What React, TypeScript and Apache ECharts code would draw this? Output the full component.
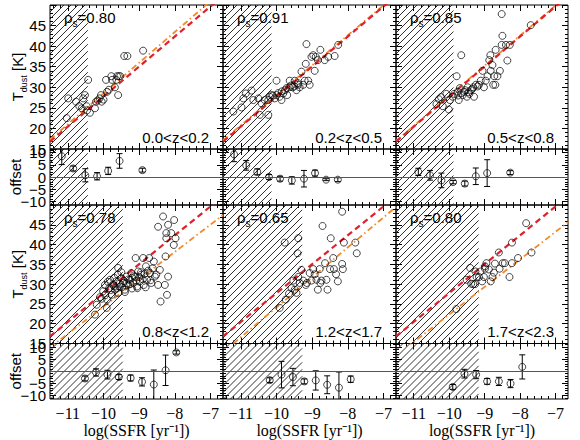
import React, { useEffect, useRef } from 'react';
import * as echarts from 'echarts';

const X_MIN = -11.5;
const X_MAX = -6.65;
const T_MIN = 15;
const T_MAX = 50;
const OFF_MIN = -11.5;
const OFF_MAX = 11.5;

const xTickValues = [-11, -10, -9, -8, -7];
const tTickValues = [15, 20, 25, 30, 35, 40, 45, 50];
const tLabelsA = [15, 25, 35, 45];
const tLabelsB = [20, 30, 40];
const offTickValues = [-10, -5, 0, 5, 10];
const offLabelsA = [-10, 0, 10];
const offLabelsB = [-5, 5];

const zBinLabels = ['0.0<z<0.2', '0.2<z<0.5', '0.5<z<0.8', '0.8<z<1.2', '1.2<z<1.7', '1.7<z<2.3'];
const rhoValues = ['0.80', '0.91', '0.85', '0.78', '0.65', '0.80'];
const hatchLimits = [-10.44, -10.14, -9.88, -9.46, -9.28, -9.17];

// linear relations: T at log(SSFR) = -11.5 and slope per dex
const redStart = 16.8;
const redSlope = 7.3;
const orangeStart = [17.3, 17.1, 16.95, 14.0, 12.8, 11.9];
const orangeSlope = [7.47, 7.3, 7.32, 6.9, 7.57, 6.96];

const scatter1 = [[-11.03,22.5],[-10.99,27.3],[-10.77,26.5],[-10.68,25.4],[-10.61,24.9],[-10.57,27.3],[-10.52,28.1],[-10.47,25.4],[-10.46,24.4],[-10.43,31.8],[-10.38,23.8],[-10.24,24.9],[-10.21,26.5],[-10.16,26.8],[-10.11,27.3],[-10.07,28.1],[-10.05,26.5],[-10.0,27.0],[-9.93,31.8],[-9.9,28.9],[-9.85,29.4],[-9.78,32.7],[-9.76,31.8],[-9.68,30.0],[-9.64,31.8],[-9.62,32.7],[-9.59,28.1],[-9.57,32.7],[-9.53,32.7],[-9.42,37.6],[-9.33,37.6],[-8.89,38.9]];
const scatter2 = [[-11.21,24.1],[-10.98,25.1],[-10.93,27.3],[-10.86,28.5],[-10.7,29.2],[-10.65,26.9],[-10.51,27.3],[-10.47,23.3],[-10.42,26.1],[-10.33,26.9],[-10.23,23.3],[-10.23,26.9],[-10.19,27.7],[-10.14,28.1],[-10.1,28.0],[-10.05,27.3],[-10.0,31.6],[-10.0,28.1],[-9.95,28.6],[-9.91,27.7],[-9.86,26.9],[-9.85,29.0],[-9.81,28.5],[-9.76,29.3],[-9.72,29.8],[-9.7,28.1],[-9.64,30.0],[-9.63,31.6],[-9.6,30.4],[-9.55,30.0],[-9.5,30.2],[-9.49,31.6],[-9.44,29.3],[-9.4,31.0],[-9.39,30.6],[-9.35,30.0],[-9.3,33.8],[-9.25,30.6],[-9.21,31.6],[-9.18,35.7],[-9.16,40.5],[-9.11,31.6],[-9.07,30.6],[-9.02,37.4],[-8.97,37.8],[-8.93,34.0],[-8.9,37.4],[-8.84,36.6],[-8.77,39.1],[-8.65,36.6],[-8.55,37.4],[-8.37,37.6],[-8.27,40.3]];
const scatter3 = [[-10.36,25.9],[-10.29,27.1],[-10.23,27.6],[-10.18,25.4],[-10.08,28.4],[-10.01,24.6],[-9.98,26.9],[-9.9,27.7],[-9.86,28.4],[-9.79,32.7],[-9.76,28.9],[-9.75,28.0],[-9.73,26.9],[-9.7,29.8],[-9.66,37.8],[-9.65,28.6],[-9.62,28.1],[-9.57,28.9],[-9.55,29.3],[-9.5,27.7],[-9.48,30.0],[-9.45,28.8],[-9.43,28.4],[-9.39,29.3],[-9.35,29.6],[-9.32,30.0],[-9.3,27.7],[-9.25,30.6],[-9.2,30.2],[-9.16,30.6],[-9.11,31.6],[-9.06,34.0],[-9.02,30.0],[-8.97,31.6],[-8.92,32.7],[-8.87,36.6],[-8.84,37.8],[-8.83,34.0],[-8.78,35.4],[-8.76,30.6],[-8.73,32.7],[-8.7,30.6],[-8.69,39.1],[-8.64,32.7],[-8.57,34.0],[-8.52,40.3],[-8.5,42.5],[-8.52,47.8],[-8.4,40.3],[-8.36,36.5],[-8.29,40.3],[-7.7,45.1]];
const scatter4 = [[-10.24,22.3],[-10.19,24.8],[-10.1,26.7],[-10.05,26.3],[-10.01,28.2],[-9.96,29.8],[-9.95,27.2],[-9.91,24.0],[-9.9,26.1],[-9.88,30.6],[-9.84,29.0],[-9.82,31.1],[-9.8,28.5],[-9.77,27.3],[-9.73,29.8],[-9.7,29.5],[-9.7,31.6],[-9.68,28.6],[-9.64,30.7],[-9.62,28.9],[-9.6,32.4],[-9.59,34.1],[-9.59,27.8],[-9.55,30.1],[-9.54,29.4],[-9.5,31.5],[-9.5,33.0],[-9.48,29.2],[-9.45,30.3],[-9.42,30.8],[-9.4,28.6],[-9.4,28.0],[-9.36,31.9],[-9.35,30.2],[-9.31,29.8],[-9.3,31.2],[-9.26,31.1],[-9.25,30.0],[-9.22,32.8],[-9.2,31.6],[-9.2,28.9],[-9.17,30.3],[-9.15,32.2],[-9.12,31.9],[-9.1,36.6],[-9.08,30.9],[-9.06,29.4],[-9.05,29.0],[-9.03,33.2],[-9.0,31.8],[-8.98,30.7],[-8.95,33.0],[-8.94,32.4],[-8.9,31.2],[-8.89,36.6],[-8.87,29.8],[-8.85,32.6],[-8.82,29.2],[-8.81,34.5],[-8.78,31.1],[-8.75,33.4],[-8.72,36.6],[-8.7,32.8],[-8.68,31.0],[-8.66,30.3],[-8.62,34.0],[-8.59,35.7],[-8.56,31.9],[-8.52,32.4],[-8.47,29.8],[-8.42,33.6],[-8.4,25.6],[-8.28,29.8],[-8.26,37.0],[-8.22,27.3],[-8.19,31.9],[-8.47,44.5],[-8.33,47.1],[-8.19,45.0],[-8.24,42.9],[-8.24,41.6],[-8.1,42.9],[-8.02,46.2],[-7.98,41.6],[-8.03,39.9]];
const scatter5 = [[-9.91,24.0],[-9.77,40.5],[-9.74,26.1],[-9.65,27.6],[-9.58,29.0],[-9.53,30.9],[-9.49,28.6],[-9.44,27.8],[-9.41,37.8],[-9.39,41.6],[-9.39,31.8],[-9.35,30.3],[-9.3,33.6],[-9.25,30.9],[-9.18,29.8],[-9.15,30.3],[-9.07,32.8],[-9.02,30.9],[-8.97,33.8],[-8.93,32.5],[-8.88,31.1],[-8.84,28.6],[-8.79,33.8],[-8.77,30.3],[-8.74,30.9],[-8.71,44.7],[-8.64,35.3],[-8.6,31.1],[-8.57,28.6],[-8.5,33.8],[-8.48,41.6],[-8.41,36.6],[-8.39,33.8],[-8.33,32.5],[-8.28,30.7],[-8.16,35.1],[-8.14,33.8],[-8.11,40.5],[-8.16,48.3],[-7.79,40.5],[-7.75,37.8]];
const scatter6 = [[-9.8,23.7],[-9.51,31.1],[-9.41,34.1],[-9.38,30.1],[-9.32,30.0],[-9.27,30.0],[-9.26,33.2],[-9.23,31.8],[-9.16,31.8],[-9.12,33.2],[-9.07,30.7],[-9.02,31.8],[-8.99,34.5],[-8.99,33.9],[-8.95,35.3],[-8.88,33.7],[-8.83,30.7],[-8.78,31.8],[-8.74,32.9],[-8.71,35.2],[-8.6,38.0],[-8.58,33.9],[-8.49,35.3],[-8.43,35.3],[-8.3,31.8],[-8.23,40.5],[-8.23,35.3],[-8.06,36.6],[-7.83,45.4],[-7.68,38.0]];
const scatterSets = [scatter1, scatter2, scatter3, scatter4, scatter5, scatter6];

// offset: [logSSFR, offset, error]
const offset1 = [[-11.17,8.5,3.4],[-10.85,3.5,1.0],[-10.51,0.7,2.7],[-10.18,0.3,1.5],[-9.87,2.5,1.5],[-9.55,6.6,3.0],[-8.91,2.8,0.8]];
const offset2 = [[-11.19,9.3,3.0],[-10.85,4.8,2.0],[-10.54,2.1,1.2],[-10.21,0.0,1.0],[-9.9,-0.7,1.0],[-9.57,-1.4,1.5],[-9.23,-0.7,3.4],[-8.92,1.6,1.2],[-8.61,-1.1,0.4],[-8.28,-1.1,0.8]];
const offset3 = [[-10.87,2.1,1.5],[-10.54,0.7,2.0],[-10.22,-1.4,3.0],[-9.89,-2.1,0.7],[-9.56,-2.7,1.0],[-9.25,0.3,3.4],[-8.93,1.6,5.5],[-8.28,1.8,0.8]];
const offset4 = [[-10.52,-3.0,1.0],[-10.21,-0.5,1.5],[-9.89,-1.4,1.8],[-9.57,-2.4,1.0],[-9.24,-2.8,1.2],[-8.92,-4.4,1.7],[-8.59,-5.5,6.0],[-8.26,0.4,6.3],[-7.96,7.8,0.7]];
const offset5 = [[-10.19,-3.7,1.0],[-9.86,-1.4,5.5],[-9.54,-2.4,3.6],[-9.22,-4.2,1.0],[-8.9,-3.8,4.0],[-8.58,-5.6,3.7],[-8.25,-6.8,6.5],[-7.92,-3.3,1.3]];
const offset6 = [[-9.9,-6.5,1.0],[-9.57,-1.0,1.8],[-9.24,-1.4,1.7],[-8.93,-4.2,1.2],[-8.6,-4.2,1.7],[-8.27,-5.1,1.7],[-7.94,1.8,5.0]];
const offsetSets = [offset1, offset2, offset3, offset4, offset5, offset6];

// layout
const colLeft = [50, 223, 396];
const colW = [173, 173, 172];
const mainTop = [5, 205];
const mainH = [144, 138.5];
const offTop = [149, 343.5];
const offH = [56, 55.5];

const SANS = '"Liberation Sans", Arial, sans-serif';
const SERIF = '"Liberation Serif", "Times New Roman", serif';
const minus = (v: number) => String(v).replace('-', '\u2212');

const xMinor: number[] = [];
for (let k = -114; k <= -68; k += 2) if (k % 10 !== 0) xMinor.push(k / 10);
const tMinor: number[] = [];
for (let v = 16; v <= 49; v++) if (v % 5 !== 0) tMinor.push(v);
const offMinor: number[] = [];
for (let v = -11; v <= 11; v++) if (v % 5 !== 0) offMinor.push(v);

function axis(gridIndex: number, min: number, max: number, position: string, ticks: number[], len: number, labels: number[] | null, labelStyle: any) {
  return {
    type: 'value', gridIndex, min, max, position,
    axisLine: { show: false, onZero: false },
    splitLine: { show: false },
    minorTick: { show: false },
    axisTick: { show: true, inside: true, length: len, customValues: ticks, lineStyle: { color: '#000', width: 1 } },
    axisLabel: labels
      ? { show: true, customValues: labels, showMinLabel: true, showMaxLabel: true, hideOverlap: false, ...labelStyle }
      : { show: false },
  };
}

function hatchRender(yLo: number, yHi: number) {
  return (params: any, api: any) => {
    const xl = api.value(0);
    const tl = api.coord([X_MIN, yHi]);
    const br = api.coord([xl, yLo]);
    const x0 = tl[0], y0 = tl[1], x1 = br[0], y1 = br[1];
    const w = x1 - x0, h = y1 - y0;
    const sp = 7;
    const children: any[] = [];
    for (let c = -h; c < w; c += sp) {
      const ts = Math.max(0, -c), te = Math.min(h, w - c);
      if (te > ts) children.push({ type: 'line', shape: { x1: x0 + c + ts, y1: y1 - ts, x2: x0 + c + te, y2: y1 - te }, style: { stroke: '#1a1a1a', lineWidth: 0.9 } });
    }
    return { type: 'group', children };
  };
}

function errRender(params: any, api: any) {
  const x = api.value(0), y = api.value(1), e = api.value(2);
  const hi = Math.min(y + e, OFF_MAX), lo = Math.max(y - e, OFF_MIN);
  const pt = api.coord([x, hi]), pb = api.coord([x, lo]);
  const st = { stroke: '#000', lineWidth: 1 };
  const ch: any[] = [{ type: 'line', shape: { x1: pt[0], y1: pt[1], x2: pb[0], y2: pb[1] }, style: st }];
  if (y + e < OFF_MAX) ch.push({ type: 'line', shape: { x1: pt[0] - 3, y1: pt[1], x2: pt[0] + 3, y2: pt[1] }, style: st });
  if (y - e > OFF_MIN) ch.push({ type: 'line', shape: { x1: pb[0] - 3, y1: pb[1], x2: pb[0] + 3, y2: pb[1] }, style: st });
  return { type: 'group', children: ch };
}

function buildOption() {
  const grid: any[] = [], xAxis: any[] = [], yAxis: any[] = [], series: any[] = [], graphic: any[] = [];
  const xLabelStyle = { fontFamily: SERIF, fontSize: 16, color: '#000', margin: 6, formatter: minus };
  const yLabelStyle = { fontFamily: SANS, fontSize: 15, lineHeight: 11, color: '#000', margin: 4, formatter: minus };
  const circle = { color: 'rgba(255,255,255,0)', borderColor: '#000', borderWidth: 0.9 };
  for (let p = 0; p < 6; p++) {
    const r = Math.floor(p / 3), c = p % 3;
    for (const kind of ['main', 'off']) {
      const g = grid.length;
      const isMain = kind === 'main';
      grid.push({ left: colLeft[c], top: isMain ? mainTop[r] : offTop[r], width: colW[c], height: isMain ? mainH[r] : offH[r], show: true, borderColor: '#000', borderWidth: 1, backgroundColor: 'transparent' });
      const showX = !isMain && r === 1;
      xAxis.push(axis(g, X_MIN, X_MAX, 'bottom', xTickValues, 6, showX ? xTickValues : null, xLabelStyle));
      xAxis.push(axis(g, X_MIN, X_MAX, 'bottom', xMinor, 3, null, null));
      xAxis.push(axis(g, X_MIN, X_MAX, 'top', xTickValues, 6, null, null));
      xAxis.push(axis(g, X_MIN, X_MAX, 'top', xMinor, 3, null, null));
      const yMin = isMain ? T_MIN : OFF_MIN, yMax = isMain ? T_MAX : OFF_MAX;
      const yMaj = isMain ? tTickValues : offTickValues;
      const labA = isMain ? tLabelsA : offLabelsA;
      const labB = isMain ? tLabelsB : offLabelsB;
      const yMin2 = isMain ? tMinor : offMinor;
      yAxis.push(axis(g, yMin, yMax, 'left', yMaj, 6, c === 0 ? labA : null, yLabelStyle));
      yAxis.push(axis(g, yMin, yMax, 'left', yMin2, 3, c === 0 ? labB : null, yLabelStyle));
      yAxis.push(axis(g, yMin, yMax, 'right', yMaj, 6, null, null));
      yAxis.push(axis(g, yMin, yMax, 'right', yMin2, 3, null, null));
      const ai = 4 * g;
      series.push({ type: 'custom', xAxisIndex: ai, yAxisIndex: ai, renderItem: hatchRender(yMin, yMax), data: [[hatchLimits[p], yMin]], z: 1, silent: true });
      if (isMain) {
        series.push({ type: 'line', xAxisIndex: ai, yAxisIndex: ai, data: [[X_MIN, orangeStart[p]], [X_MAX, orangeStart[p] + orangeSlope[p] * (X_MAX - X_MIN)]], symbol: 'none', lineStyle: { color: '#f28a2a', width: 1.8, type: [6, 3, 1.5, 3] }, z: 2, silent: true });
        series.push({ type: 'line', xAxisIndex: ai, yAxisIndex: ai, data: [[X_MIN, redStart], [X_MAX, redStart + redSlope * (X_MAX - X_MIN)]], symbol: 'none', lineStyle: { color: '#e0202a', width: 2.2, type: [6, 4] }, z: 2, silent: true });
        series.push({ type: 'scatter', xAxisIndex: ai, yAxisIndex: ai, data: scatterSets[p], symbol: 'circle', symbolSize: 7, itemStyle: circle, z: 3, silent: true });
      } else {
        series.push({ type: 'custom', xAxisIndex: ai, yAxisIndex: ai, renderItem: errRender, data: offsetSets[p], z: 3, silent: true });
        series.push({
          type: 'scatter', xAxisIndex: ai, yAxisIndex: ai, data: offsetSets[p].map(d => [d[0], d[1]]), symbol: 'circle', symbolSize: 7, itemStyle: circle, z: 3, silent: true,
          markLine: { silent: true, symbol: 'none', label: { show: false }, lineStyle: { color: '#555', width: 1, type: 'solid' }, data: [{ yAxis: 0 }] },
        });
      }
    }
    const left = colLeft[c], right = colLeft[c] + colW[c];
    graphic.push({
      type: 'text', x: left + 14, y: mainTop[r] + 14, z: 10,
      style: {
        text: '{a|\u03c1}{s|s}{a|=' + rhoValues[p] + '}', fill: '#000', align: 'left', verticalAlign: 'middle',
        rich: { a: { fontFamily: SANS, fontSize: 15, fill: '#000', verticalAlign: 'bottom', padding: [0, 0, 3, 0] }, s: { fontFamily: SANS, fontSize: 10, fill: '#000', verticalAlign: 'bottom' } },
      },
    });
    graphic.push({ type: 'text', x: right - 14, y: mainTop[r] + mainH[r] - 12, z: 10, style: { text: zBinLabels[p], fill: '#000', font: '15px ' + SANS, align: 'right', verticalAlign: 'middle' } });
    if (r === 1) {
      graphic.push({ type: 'text', x: (left + right) / 2, y: 430, z: 10, style: { text: 'log(SSFR [yr\u207b\u00b9])', fill: '#000', font: '16px ' + SERIF, align: 'center', verticalAlign: 'middle' } });
    }
  }
  for (let r = 0; r < 2; r++) {
    graphic.push({
      type: 'text', x: 19, y: mainTop[r] + mainH[r] / 2, rotation: Math.PI / 2, z: 10,
      style: {
        text: '{a|T}{s|dust}{a| [K]}', fill: '#000', align: 'center', verticalAlign: 'middle',
        rich: { a: { fontFamily: SANS, fontSize: 15, fill: '#000', verticalAlign: 'bottom', padding: [0, 0, 3, 0] }, s: { fontFamily: SANS, fontSize: 9, fill: '#000', verticalAlign: 'bottom' } },
      },
    });
    graphic.push({ type: 'text', x: 15, y: offTop[r] + offH[r] / 2, rotation: Math.PI / 2, z: 10, style: { text: 'offset', fill: '#000', font: '15px ' + SANS, align: 'center', verticalAlign: 'middle' } });
  }
  return { animation: false, backgroundColor: '#fff', grid, xAxis, yAxis, series, graphic };
}

export default function App() {
  const ref = useRef<HTMLDivElement>(null);
  useEffect(() => {
    if (!ref.current) return;
    const chart = echarts.init(ref.current, null, { renderer: 'svg' });
    chart.setOption(buildOption() as any);
    return () => chart.dispose();
  }, []);
  return <div ref={ref} style={{ position: 'fixed', left: 0, top: 0, width: 580, height: 440, background: '#fff' }} />;
}
